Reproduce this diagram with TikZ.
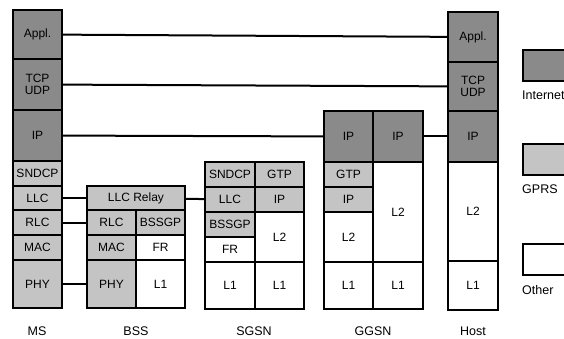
\documentclass[tikz,border=0pt]{standalone}
\usepackage{fontspec}
\setmainfont{Liberation Sans}
\usetikzlibrary{positioning}
\definecolor{inet}{HTML}{8A8A8A}
\definecolor{gprs}{HTML}{C4C4C4}

\begin{document}
\begin{tikzpicture}[x=1pt,y=-1pt,
    layer/.style={draw=black, line width=1.8pt, inner sep=0pt, outer sep=0pt,
        align=center, font=\fontsize{12}{12.5}\selectfont},
    link/.style={line width=2pt},
    colname/.style={font=\fontsize{12.5}{14}\selectfont}]
\useasboundingbox (0,0) rectangle (564,339);

% protocol stacks: name/left/top/right/bottom/fill/text
\foreach \nm/\xa/\ya/\xb/\yb/\fl/\txt in {%
    msappl/13/10/62/59/inet/{Appl.},%
    mstcp/13/59/62/110/inet/{TCP\\UDP},%
    msip/13/110/62/161/inet/{IP},%
    mssndcp/13/161/62/186/gprs/{SNDCP},%
    msllc/13/186/62/210/gprs/{LLC},%
    msrlc/13/210/62/235/gprs/{RLC},%
    msmac/13/235/62/260/gprs/{MAC},%
    msphy/13/260/62/308/gprs/{PHY},%
    bssrelay/87/186/185/210/gprs/{LLC Relay},%
    bssrlc/87/210/136/235/gprs/{RLC},%
    bssbssgp/136/210/185/235/gprs/{BSSGP},%
    bssmac/87/235/136/260/gprs/{MAC},%
    bssfr/136/235/185/260/white/{FR},%
    bssphy/87/260/136/308/gprs/{PHY},%
    bssla/136/260/185/308/white/{L1},%
    sgsndcp/205/162/255/187/gprs/{SNDCP},%
    sggtp/255/162/304/187/gprs/{GTP},%
    sgllc/205/187/255/212/gprs/{LLC},%
    sgip/255/187/304/212/gprs/{IP},%
    sgbssgp/205/212/255/237/gprs/{BSSGP},%
    sgfr/205/237/255/262/white/{FR},%
    sgl2/255/212/304/262/white/{L2},%
    sgla/205/262/255/309/white/{L1},%
    sglb/255/262/304/309/white/{L1},%
    ggipa/324/111/373/162/inet/{IP},%
    ggipb/373/111/423/162/inet/{IP},%
    gggtp/324/162/373/187/gprs/{GTP},%
    ggip/324/187/373/212/gprs/{IP},%
    ggl2a/324/212/373/262/white/{L2},%
    ggl2b/373/162/423/262/white/{L2},%
    ggla/324/262/373/309/white/{L1},%
    gglb/373/262/423/309/white/{L1},%
    hostappl/448/12/498/62/inet/{Appl.},%
    hosttcp/448/62/498/111/inet/{TCP\\UDP},%
    hostip/448/111/498/162/inet/{IP},%
    hostl2/448/162/498/261/white/{L2},%
    hostla/448/261/498/310/white/{L1}%
}{
    \node[layer, fill=\fl, minimum width={\xb-\xa}, minimum height={\yb-\ya}]
        (\nm) at ({(\xa+\xb)/2},{(\ya+\yb)/2}) {\txt};
}

% peer links
\draw[link] (msappl) -- (hostappl);
\draw[link] (mstcp) -- (hosttcp);
\draw[link] (msip) -- (ggipa);
\draw[link] (ggipb) -- (hostip);
\draw[link] (msllc) -- (bssrelay);
\draw[link] (bssrelay) -- (sgllc);
\draw[link] (msrlc) -- (bssrlc);
\draw[link] (msphy) -- (bssphy);

% column names
\foreach \nm/\xpos/\txt in {ms/37/MS, bss/136/BSS, sgsn/254/SGSN, ggsn/373/GGSN, host/473/Host}{
    \node[colname] (\nm) at (\xpos,331) {\txt};
}

% key
\foreach \nm/\ypos/\fl/\txt in {keyinet/50/inet/Internet, keygprs/144/gprs/GPRS, keyother/244/white/Other}{
    \node[layer, fill=\fl, minimum width=52, minimum height=31, anchor=north west]
        (\nm) at (523,\ypos) {};
    \node[colname, anchor=north west, inner sep=0pt] (\nm txt) at (522,\ypos+41) {\txt};
}
\end{tikzpicture}
\end{document}
